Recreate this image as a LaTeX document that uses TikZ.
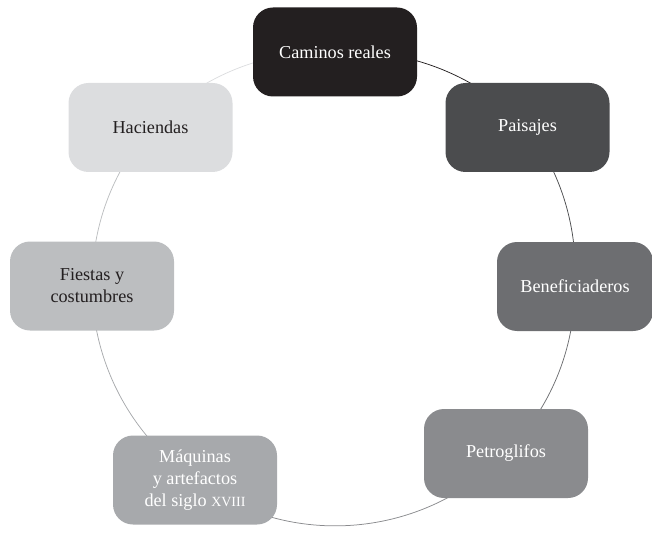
\documentclass[tikz,border=0pt]{standalone}
\usepackage{fontspec}
\setmainfont{Liberation Serif}
\usetikzlibrary{backgrounds}
\definecolor{cA}{HTML}{231F20}
\definecolor{cB}{HTML}{4B4C4E}
\definecolor{cC}{HTML}{6D6E71}
\definecolor{cD}{HTML}{8A8B8E}
\definecolor{cE}{HTML}{A7A9AC}
\definecolor{cF}{HTML}{BCBEC0}
\definecolor{cG}{HTML}{DCDDDF}
\tikzset{
  box/.style={rounded corners=20pt, minimum width=164pt, minimum height=89pt, inner sep=0pt, align=center,
    font=\fontsize{18.2}{22}\selectfont},
  arcline/.style={line width=0.75pt, bend left=#1, looseness=0.9}
}
\begin{document}
\begin{tikzpicture}[x=1pt,y=1pt]
\useasboundingbox (0,0) rectangle (652,-537);
\node[box, fill=cA, text=white] (caminos) at (335,-52) {Caminos reales};
\node[box, fill=cB, text=white] (paisajes) at (527.5,-127.5) {Paisajes};
\node[box, fill=cC, text=white, minimum width=156pt] (benef) at (575,-286.5) {Beneficiaderos};
\node[box, fill=cD, text=white] (petro) at (506,-453.5) {Petroglifos};
\node[box, fill=cE, text=white] (maq) at (195,-480) {Máquinas\\y artefactos\\del siglo {\fontsize{14}{22}\selectfont XVIII}};
\node[box, fill=cF, text=cA] (fiestas) at (92,-286) {Fiestas y\\costumbres};
\node[box, fill=cG, text=cA] (hac) at (150.5,-127.5) {Haciendas};
\begin{pgfonlayer}{background}
\draw[arcline=24.8, draw=cA] (caminos.center) to (paisajes.center);
\draw[arcline=19.6, draw=cB] (paisajes.center) to (benef.center);
\draw[arcline=22.1, draw=cC] (benef.center) to (petro.center);
\draw[arcline=41.3, draw=cD, looseness=0.97] (petro.center) to (maq.center);
\draw[arcline=27.5, draw=cE] (maq.center) to (fiestas.center);
\draw[arcline=20.4, draw=cF] (fiestas.center) to (hac.center);
\draw[arcline=24.4, draw=cG] (hac.center) to (caminos.center);
\end{pgfonlayer}
\end{tikzpicture}
\end{document}
